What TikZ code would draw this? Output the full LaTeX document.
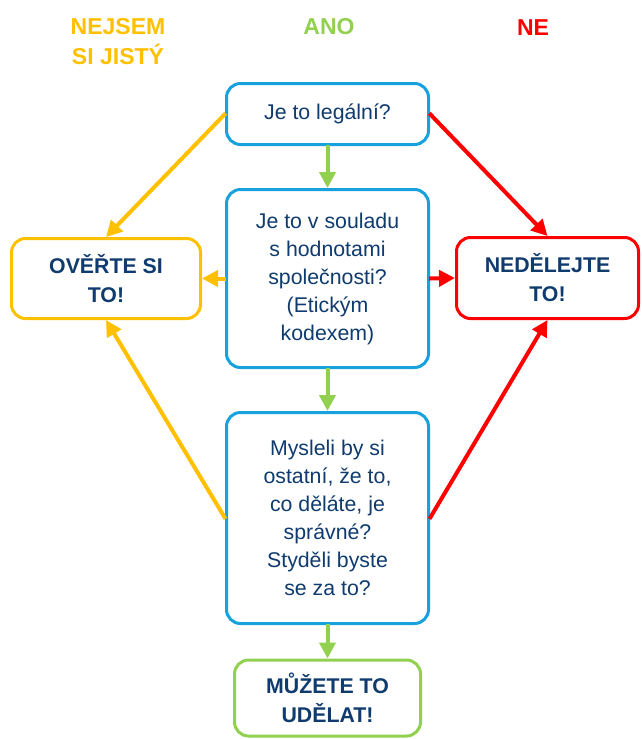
\documentclass[tikz,border=0pt]{standalone}
\usepackage{fontspec}
\setmainfont{Liberation Sans}
\usetikzlibrary{arrows.meta}
\definecolor{cblue}{HTML}{17A2DE}
\definecolor{cyel}{HTML}{FFC000}
\definecolor{cgreen}{HTML}{92D050}
\definecolor{cred}{HTML}{FF0000}
\definecolor{ctext}{HTML}{0F3B6E}
\tikzset{
  qbox/.style={draw=cblue, line width=3pt, rounded corners=14pt, fill=white, text=ctext,
    align=center, font=\fontsize{21.3}{28}\selectfont, inner sep=0pt, minimum width=202pt},
  abox/.style={line width=3pt, rounded corners=14pt, fill=white, text=ctext,
    align=center, font=\fontsize{21.3}{29}\selectfont\bfseries, inner sep=0pt},
  hdr/.style={align=center, font=\fontsize{23}{30}\selectfont\bfseries, inner sep=0pt},
  arr/.style={line width=4pt, -{Triangle[length=16pt,width=16pt]}, shorten <=-1pt},
}
\begin{document}
\begin{tikzpicture}[x=1pt,y=-1pt]
\useasboundingbox (0,0) rectangle (642,739);
% headers
\node[hdr, text=cyel] (h1) at (118,42) {NEJSEM\\SI JISTÝ};
\node[hdr, text=cgreen] (h2) at (329,27) {ANO};
\node[hdr, text=cred] (h3) at (533,28) {NE};
% question boxes
\node[qbox, minimum height=61pt] (q1) at (327.5,114) {Je to legální?};
\node[qbox, minimum height=178pt] (q2) at (327.5,278.5) {Je to v souladu\\s hodnotami\\společnosti?\\(Etickým\\kodexem)};
\node[qbox, minimum height=211pt] (q3) at (327.5,518) {Mysleli by si\\ostatní, že to,\\co děláte, je\\správné?\\Styděli byste\\se za to?};
% answer boxes
\node[abox, draw=cyel, minimum width=189pt, minimum height=80pt] (left) at (106,278.5) {OVĚŘTE SI\\TO!};
\node[abox, draw=cred, minimum width=182pt, minimum height=81pt] (right) at (547.5,278) {NEDĚLEJTE\\TO!};
\node[abox, draw=cgreen, minimum width=186pt, minimum height=76pt] (ok) at (327.5,698) {MŮŽETE TO\\UDĚLAT!};
% green arrows
\draw[arr, draw=cgreen, fill=cgreen] (q1) -- (q2);
\draw[arr, draw=cgreen, fill=cgreen] (q2) -- (q3);
\draw[arr, draw=cgreen, fill=cgreen] (q3) -- (ok);
% yellow arrows
\draw[arr, draw=cyel, fill=cyel] (q1.west) -- (left.north);
\draw[arr, draw=cyel, fill=cyel] (q2.west) -- (left.east);
\draw[arr, draw=cyel, fill=cyel] (q3.west) -- (left.south);
% red arrows
\draw[arr, draw=cred, fill=cred] (q1.east) -- (right.north);
\draw[arr, draw=cred, fill=cred] (q2.east) -- (right.west);
\draw[arr, draw=cred, fill=cred] (q3.east) -- (right.south);
\end{tikzpicture}
\end{document}
